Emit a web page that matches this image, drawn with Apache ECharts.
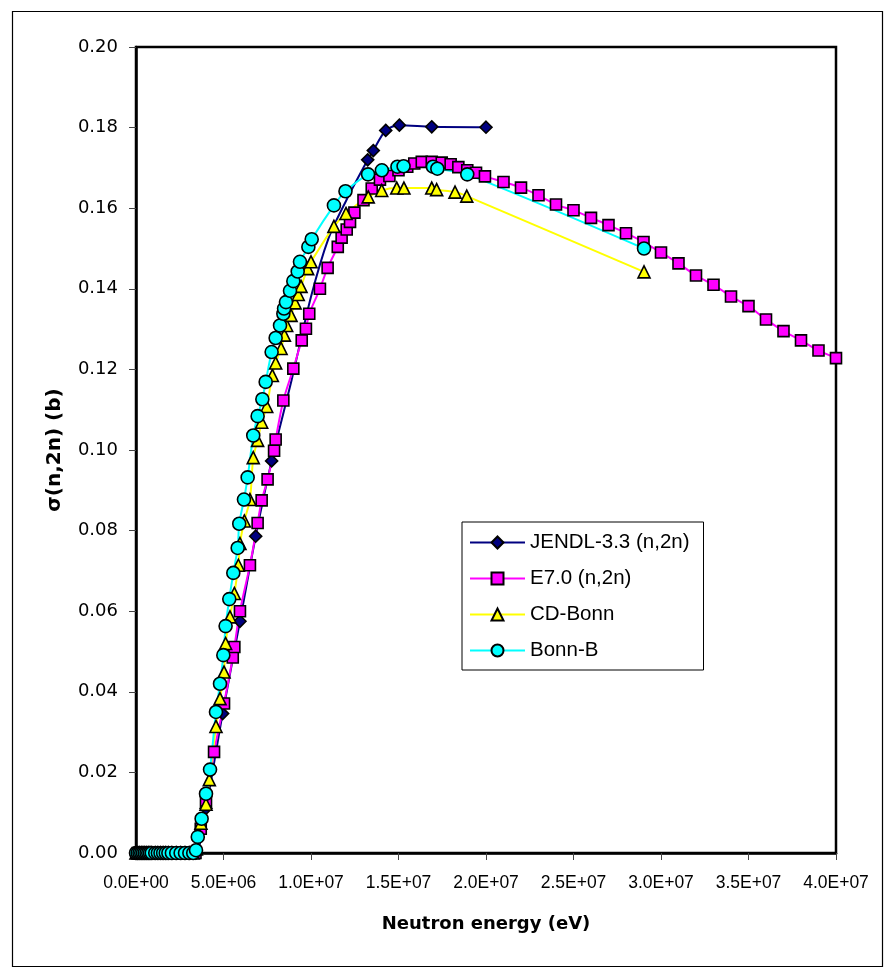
<!DOCTYPE html>
<html>
<head>
<meta charset="utf-8">
<script src="https://cdn.jsdelivr.net/npm/echarts@6/dist/echarts.min.js"></script>
<style>
html,body{margin:0;padding:0;background:#fff;}
#chart{width:890px;height:969px;}
</style>
</head>
<body>
<div id="chart"></div>
<script>
// ---- data (energy in eV, cross section in b) ----
const seriesNames = ['JENDL-3.3 (n,2n)', 'E7.0 (n,2n)', 'CD-Bonn', 'Bonn-B'];

// JENDL points whose markers are visible
const jendl = [[1e5,0],[1e6,0],[2e6,0],[3e6,0],[3.4e6,0],[4.0e6,0.0111],[4.95e6,0.0346],[5.94e6,0.0575],
  [6.84e6,0.0786],[7.75e6,0.0973],
  [1.324e7,0.172],[1.356e7,0.1743],[1.427e7,0.1793],[1.505e7,0.1806],[1.69e7,0.1802],[2.0e7,0.1801]];
const jendlLineOnly = [[8.9e6,0.1175],[1.0e7,0.138],[1.1e7,0.1525],[1.2e7,0.1618]];

const e70 = [[1e5,0],[1e6,0],[2e6,0],[3e6,0],[3.4e6,0],[3.7e6,0.006],[4.0e6,0.013],[4.46e6,0.0251],
  [5.03e6,0.0371],[5.53e6,0.0485],[5.62e6,0.0511],[5.94e6,0.060],[6.51e6,0.0714],[6.95e6,0.0819],
  [7.18e6,0.0875],[7.52e6,0.0927],[7.89e6,0.0998],[7.98e6,0.1026],[8.42e6,0.1123],[8.99e6,0.1202],
  [9.47e6,0.1272],[9.71e6,0.1301],[9.9e6,0.1338],[1.051e7,0.140],[1.095e7,0.1452],[1.153e7,0.1504],
  [1.175e7,0.1527],[1.204e7,0.1547],[1.223e7,0.1566],[1.248e7,0.1589],[1.30e7,0.162],[1.347e7,0.1649],
  [1.394e7,0.1671],[1.448e7,0.168],[1.50e7,0.1694],[1.55e7,0.1703],[1.59e7,0.1711],[1.633e7,0.1715],
  [1.69e7,0.1715],[1.747e7,0.1713],[1.798e7,0.1709],[1.842e7,0.1702],[1.893e7,0.1694],[1.943e7,0.1688],
  [1.994e7,0.1679],[2.1e7,0.1665],[2.2e7,0.1651],[2.3e7,0.1632],[2.4e7,0.1609],[2.5e7,0.1595],
  [2.6e7,0.1576],[2.7e7,0.1558],[2.8e7,0.1538],[2.9e7,0.1516],[3.0e7,0.149],[3.1e7,0.1463],
  [3.2e7,0.1433],[3.3e7,0.141],[3.4e7,0.1381],[3.5e7,0.1357],[3.6e7,0.1324],[3.7e7,0.1295],
  [3.8e7,0.1272],[3.9e7,0.1247],[4.0e7,0.1228]];

const cdBonn = [[0,0],[1e5,0],[2e5,0],[3e5,0],[4e5,0],[5e5,0],[6e5,0],[7e5,0],[8e5,0],[9e5,0],
  [1.1e6,0],[1.25e6,0],[1.4e6,0],[1.55e6,0],[1.7e6,0],[1.85e6,0],[2.05e6,0],[2.3e6,0],[2.55e6,0],
  [2.8e6,0],[3.05e6,0],[3.27e6,0],[3.45e6,0.001],[3.71e6,0.0074],[4.0e6,0.0121],[4.19e6,0.0182],
  [4.57e6,0.0314],[4.8e6,0.0383],[5.03e6,0.0449],[5.12e6,0.052],[5.37e6,0.0586],[5.62e6,0.0644],
  [5.85e6,0.0714],[5.94e6,0.0768],[6.19e6,0.0824],[6.51e6,0.0877],[6.7e6,0.0981],[6.95e6,0.1024],
  [7.18e6,0.1069],[7.47e6,0.1108],[7.79e6,0.1185],[7.98e6,0.1216],[8.29e6,0.1252],[8.48e6,0.1285],
  [8.61e6,0.1309],[8.86e6,0.1334],[9.09e6,0.1365],[9.27e6,0.1386],[9.43e6,0.1406],[9.81e6,0.145],
  [1.0e7,0.1467],[1.131e7,0.1555],[1.2e7,0.1587],[1.327e7,0.1628],[1.404e7,0.1644],[1.49e7,0.165],
  [1.531e7,0.165],[1.69e7,0.165],[1.718e7,0.1646],[1.823e7,0.164],[1.89e7,0.163],[2.903e7,0.1442]];

const bonnB = [[0,0],[1e5,0],[2e5,0],[3e5,0],[4e5,0],[5e5,0],[6e5,0],[7e5,0],[8e5,0],[9e5,0],
  [1.1e6,0],[1.25e6,0],[1.4e6,0],[1.55e6,0],[1.7e6,0],[1.85e6,0],[2.05e6,0],[2.3e6,0],[2.55e6,0],
  [2.8e6,0],[3.05e6,0],[3.27e6,0],[3.43e6,0.0007],[3.53e6,0.004],[3.75e6,0.0085],[4.0e6,0.0147],
  [4.23e6,0.0207],[4.57e6,0.035],[4.8e6,0.042],[4.99e6,0.0491],[5.12e6,0.0563],[5.33e6,0.063],
  [5.56e6,0.0695],[5.81e6,0.0757],[5.9e6,0.0817],[6.17e6,0.0877],[6.38e6,0.0932],[6.7e6,0.1036],
  [6.95e6,0.1084],[7.22e6,0.1126],[7.41e6,0.1169],[7.75e6,0.1243],[7.98e6,0.1278],[8.23e6,0.1309],
  [8.42e6,0.1338],[8.46e6,0.1351],[8.57e6,0.1367],[8.8e6,0.1395],[8.99e6,0.1419],[9.24e6,0.1443],
  [9.37e6,0.1467],[9.85e6,0.1504],[1.004e7,0.1523],[1.131e7,0.1607],[1.197e7,0.1642],[1.326e7,0.1684],
  [1.405e7,0.1694],[1.494e7,0.1703],[1.529e7,0.1704],[1.697e7,0.1703],[1.722e7,0.1698],[1.893e7,0.1684],
  [2.903e7,0.15]];

const xTickLabels = ['0.0E+00','5.0E+06','1.0E+07','1.5E+07','2.0E+07','2.5E+07','3.0E+07','3.5E+07','4.0E+07'];
const yTickLabels = ['0.00','0.02','0.04','0.06','0.08','0.10','0.12','0.14','0.16','0.18','0.20'];

const xTitle = 'Neutron energy (eV)';
const yTitle = 'σ(n,2n) (b)';

// ---- chart ----
const chart = echarts.init(document.getElementById('chart'), null, {renderer: 'canvas'});

const jendlData = jendl.map(p => ({value: p}))
  .concat(jendlLineOnly.map(p => ({value: p, symbol: 'none'})))
  .sort((a, b) => a.value[0] - b.value[0]);

const seriesData = [jendlData, e70, cdBonn, bonnB];
const lineColors = ['#000080', '#FF00FF', '#FFFF00', '#00FFFF'];
const symbols = ['diamond', 'rect', 'triangle', 'circle'];
const symSizes = [12, 11, 12, 13];

const series = seriesData.map((d, i) => ({
  name: seriesNames[i],
  type: 'line',
  data: d,
  smooth: 0.3,
  symbol: symbols[i],
  symbolSize: symSizes[i],
  showAllSymbol: true,
  lineStyle: {color: lineColors[i], width: 2},
  itemStyle: {color: lineColors[i], borderColor: '#000', borderWidth: 1.6},
  emphasis: {disabled: true}
}));

chart.setOption({
  animation: false,
  backgroundColor: '#fff',
  grid: {left: 136, right: 54, top: 47, bottom: 116, show: true, borderColor: '#000', borderWidth: 2.5, backgroundColor: 'transparent'},
  xAxis: {
    type: 'value', min: 0, max: 4e7, interval: 5e6,
    name: xTitle, nameLocation: 'middle', nameGap: 62,
    nameTextStyle: {fontFamily: 'DejaVu Sans', fontWeight: 'bold', fontSize: 18, color: '#000'},
    axisLine: {show: true, onZero: false, lineStyle: {color: '#000', width: 2.5}},
    axisTick: {show: true, length: 7, lineStyle: {color: '#444', width: 1}},
    axisLabel: {margin: 21, fontFamily: 'Liberation Sans', fontSize: 17.5, color: '#000',
      formatter: v => xTickLabels[Math.round(v / 5e6)]},
    splitLine: {show: false}
  },
  yAxis: {
    type: 'value', min: 0, max: 0.2, interval: 0.02,
    name: yTitle, nameLocation: 'middle', nameGap: 71, nameRotate: 90,
    nameTextStyle: {fontFamily: 'DejaVu Sans', fontWeight: 'bold', fontSize: 20, color: '#000'},
    axisLine: {show: true, onZero: false, lineStyle: {color: '#000', width: 2.5}},
    axisTick: {show: true, length: 7, lineStyle: {color: '#444', width: 1}},
    axisLabel: {margin: 18, fontFamily: 'DejaVu Sans', fontSize: 18, color: '#000',
      formatter: v => yTickLabels[Math.round(v / 0.02)]},
    splitLine: {show: false}
  },
  legend: {
    orient: 'vertical', left: 462, top: 522,
    backgroundColor: '#fff', borderColor: '#000', borderWidth: 1,
    padding: [10, 14, 9, 7],
    itemWidth: 55, itemHeight: 15, itemGap: 15,
    textStyle: {fontFamily: 'Liberation Sans', fontSize: 20.5, color: '#000'},
    data: seriesNames,
    selectedMode: false
  },
  graphic: [{
    type: 'rect', left: 10, top: 9, silent: true,
    shape: {width: 870, height: 955},
    style: {fill: 'none', stroke: '#000', lineWidth: 1.2}
  }],
  series: series
});
</script>
</body>
</html>
